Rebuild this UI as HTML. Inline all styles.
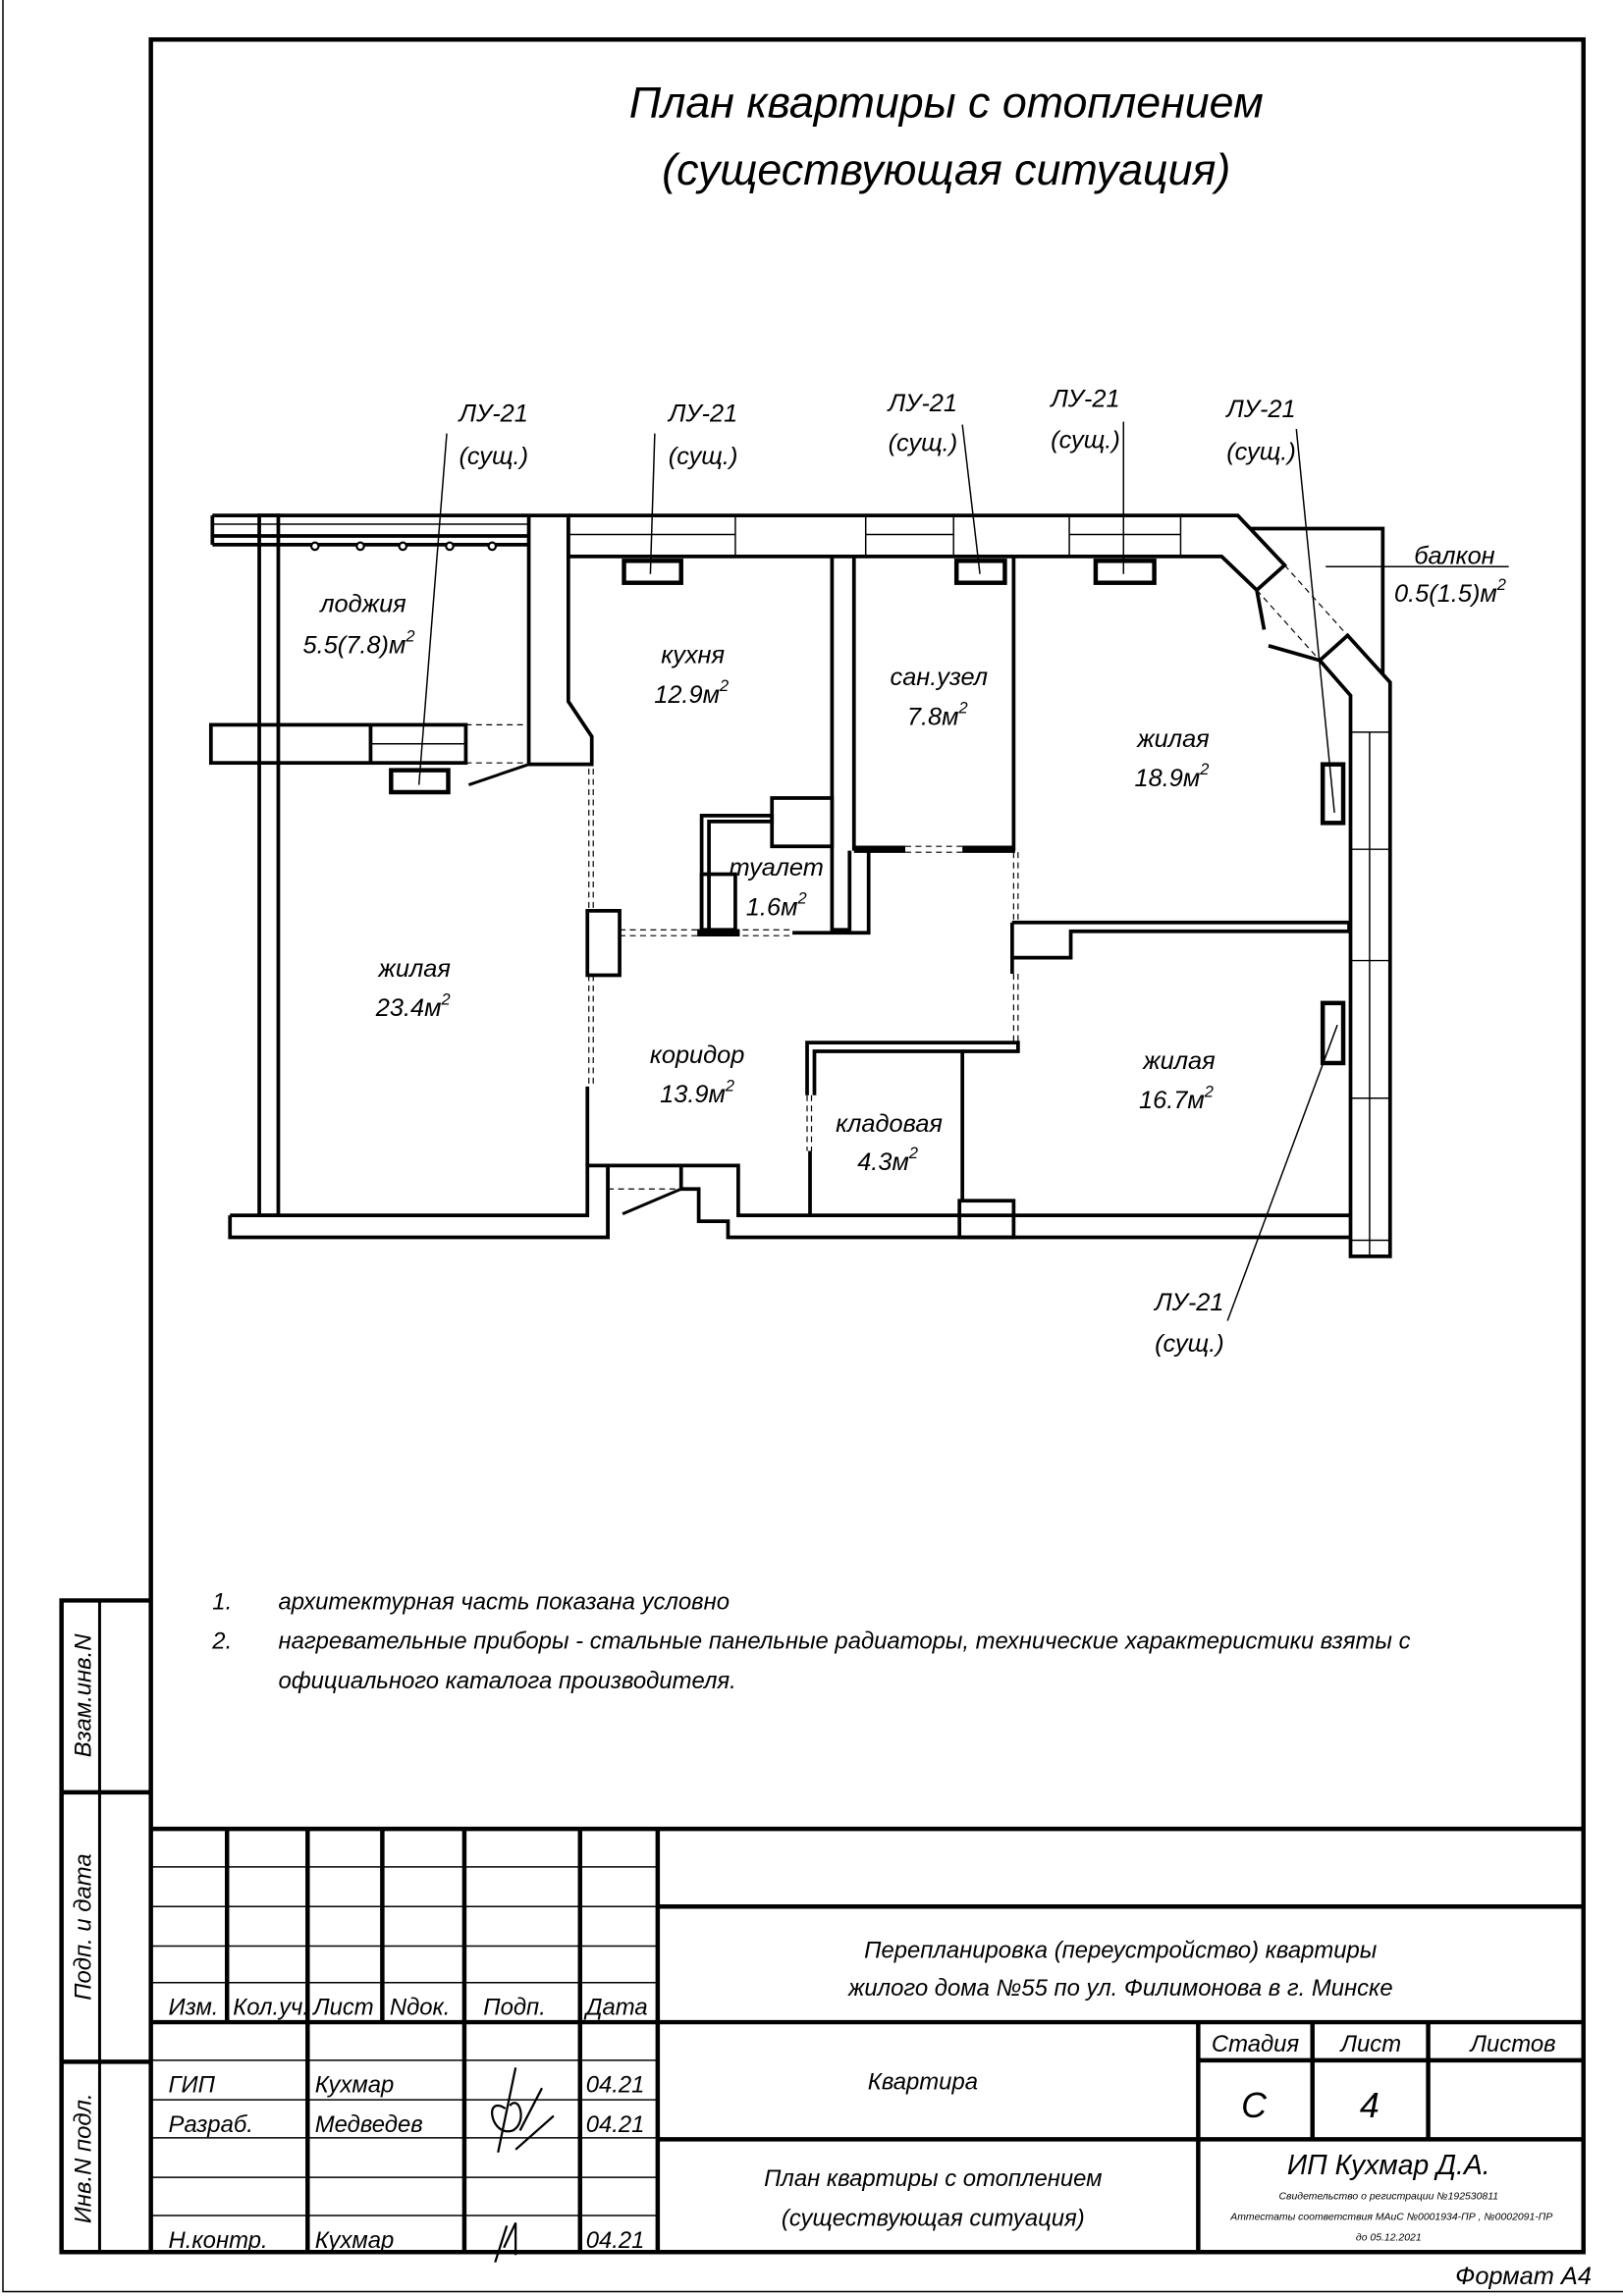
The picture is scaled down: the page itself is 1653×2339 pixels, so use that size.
<!DOCTYPE html>
<html><head><meta charset="utf-8"><style>
html,body{margin:0;padding:0;background:#fff;}
svg{display:block;}
text{font-family:"Liberation Sans Narrow","Liberation Sans","DejaVu Sans",sans-serif;font-style:italic;fill:#000;}
</style></head><body>
<svg xmlns="http://www.w3.org/2000/svg" width="1653" height="2339" viewBox="0 0 1108 1568" preserveAspectRatio="none">
<rect x="0" y="0" width="1108" height="1568" fill="#fff"/>
<rect x="2" y="-2" width="1110" height="1567" fill="none" stroke="#000" stroke-width="1"/>
<!-- main frame -->
<g stroke="#000" stroke-width="3" fill="none">
<rect x="103" y="27" width="978" height="1511"/>
<polyline points="103,1093 42,1093 42,1538 103,1538"/>
<line x1="68" y1="1093" x2="68" y2="1538" stroke-width="2"/>
<line x1="42" y1="1224" x2="103" y2="1224"/>
<line x1="42" y1="1408" x2="103" y2="1408"/>
<!-- title block -->
<line x1="103" y1="1249" x2="1081" y2="1249"/>
<line x1="449" y1="1249" x2="449" y2="1538"/>
<line x1="449" y1="1302" x2="1081" y2="1302"/>
<line x1="103" y1="1381" x2="1081" y2="1381"/>
<line x1="449" y1="1461" x2="1081" y2="1461"/>
<line x1="818" y1="1381" x2="818" y2="1538"/>
<line x1="818" y1="1407" x2="1081" y2="1407"/>
<line x1="896" y1="1381" x2="896" y2="1461"/>
<line x1="975" y1="1381" x2="975" y2="1461"/>
<line x1="155" y1="1249" x2="155" y2="1381"/>
<line x1="210" y1="1249" x2="210" y2="1538"/>
<line x1="261" y1="1249" x2="261" y2="1381"/>
<line x1="317" y1="1249" x2="317" y2="1538"/>
<line x1="396" y1="1249" x2="396" y2="1538"/>
</g>
<g stroke="#000" stroke-width="1" fill="none">
<line x1="103" y1="1275" x2="449" y2="1275"/>
<line x1="103" y1="1302" x2="449" y2="1302"/>
<line x1="103" y1="1329" x2="449" y2="1329"/>
<line x1="103" y1="1354" x2="449" y2="1354"/>
<line x1="103" y1="1407" x2="449" y2="1407"/>
<line x1="103" y1="1434" x2="449" y2="1434"/>
<line x1="103" y1="1460" x2="449" y2="1460"/>
<line x1="103" y1="1487" x2="449" y2="1487"/>
<line x1="103" y1="1513" x2="449" y2="1513"/>
</g>
<!-- titles -->
<text x="646" y="80" font-size="30" text-anchor="middle">План квартиры с отоплением</text>
<text x="646" y="126" font-size="30" text-anchor="middle">(существующая ситуация)</text>
<!-- notes -->
<g font-size="16">
<text x="145" y="1099">1.</text><text x="190" y="1099">архитектурная часть показана условно</text>
<text x="145" y="1126">2.</text><text x="190" y="1126">нагревательные приборы - стальные панельные радиаторы, технические характеристики взяты с</text>
<text x="190" y="1153">официального каталога производителя.</text>
</g>
<!-- left strip -->
<g font-size="16" style="font-style:normal">
<text transform="translate(62,1158) rotate(-90)" text-anchor="middle">Взам.инв.N</text>
<text transform="translate(62,1316) rotate(-90)" text-anchor="middle">Подп.  и  дата</text>
<text transform="translate(62,1474) rotate(-90)" text-anchor="middle">Инв.N подл.</text>
</g>
<!-- title block text -->
<g font-size="16">
<text x="115" y="1376">Изм.</text><text x="159" y="1376">Кол.уч.</text><text x="214" y="1376">Лист</text><text x="266" y="1376">Nдок.</text><text x="330" y="1376">Подп.</text><text x="400" y="1376">Дата</text>
<text x="115" y="1429">ГИП</text><text x="215" y="1429">Кухмар</text><text x="400" y="1429">04.21</text>
<text x="115" y="1456">Разраб.</text><text x="215" y="1456">Медведев</text><text x="400" y="1456">04.21</text>
<text x="115" y="1535">Н.контр.</text><text x="215" y="1535">Кухмар</text><text x="400" y="1535">04.21</text>
<text x="765" y="1337" text-anchor="middle">Перепланировка (переустройство) квартиры</text>
<text x="765" y="1363" text-anchor="middle">жилого дома №55 по ул. Филимонова в г. Минске</text>
<text x="630" y="1427" text-anchor="middle">Квартира</text>
<text x="857" y="1401" text-anchor="middle">Стадия</text><text x="936" y="1401" text-anchor="middle">Лист</text><text x="1033" y="1401" text-anchor="middle">Листов</text>
<text x="637" y="1493" text-anchor="middle">План квартиры с отоплением</text>
<text x="637" y="1520" text-anchor="middle">(существующая ситуация)</text>
</g>
<text x="856" y="1446" font-size="24" text-anchor="middle">С</text>
<text x="935" y="1446" font-size="24" text-anchor="middle">4</text>
<text x="948" y="1485" font-size="19" text-anchor="middle">ИП Кухмар Д.А.</text>
<g font-size="7" text-anchor="middle">
<text x="948" y="1502">Свидетельство о регистрации №192530811</text>
<text x="950" y="1516">Аттестаты соответствия МАиС №0001934-ПР , №0002091-ПР</text>
<text x="948" y="1530">до 05.12.2021</text>
</g>
<text x="1040" y="1560" font-size="17" text-anchor="middle">Формат А4</text>
<!-- signatures -->
<g stroke="#000" stroke-width="1.5" fill="none">
<path d="M340,1470 L352,1412 M345,1440 C330,1430 335,1460 350,1455 C360,1450 355,1430 348,1438 M355,1455 L370,1426 M352,1468 L378,1445"/>
<path d="M338,1545 L346,1520 M344,1535 L352,1518 L352,1540"/>
</g>
<!-- floor plan -->
<g stroke="#000" stroke-width="2.5" fill="none" stroke-linejoin="miter">
<!-- top wall -->
<polyline points="388,352 845,352 877,386 858,403 834,380 388,380"/>
<line x1="388" y1="352" x2="388" y2="380"/>
<!-- loggia rail -->
<polyline points="145,352 361,352"/>
<line x1="145" y1="366" x2="361" y2="366"/>
<line x1="145" y1="372" x2="361" y2="372"/>
<line x1="145" y1="352" x2="145" y2="372"/>
<!-- loggia wall block -->
<polyline points="361,352 388,352 388,479 404,503 404,522 361,522 361,352"/>
<!-- left posts -->
<rect x="177" y="352" width="13" height="478"/>
<!-- bottom left wall -->
<polyline points="157,830 401,830 401,796 415,796 415,845 157,845 157,830"/>
<!-- loggia horizontal block -->
<rect x="144" y="495" width="174" height="26"/>
<line x1="253" y1="495" x2="253" y2="521"/>
<!-- radiators -->
<rect x="267" y="526" width="39" height="15" stroke-width="3"/>
<rect x="426" y="383" width="39" height="15" stroke-width="3"/>
<rect x="653" y="383" width="33" height="15" stroke-width="3"/>
<rect x="748" y="383" width="40" height="15" stroke-width="3"/>
<rect x="903" y="522" width="14" height="40" stroke-width="3"/>
<rect x="903" y="685" width="14" height="41" stroke-width="3"/>
<!-- bay corner -->
<polyline points="858,403 863,430"/>
<line x1="866" y1="441" x2="901" y2="451"/>
<polyline points="901,451 920,434 949,466 949,858 922,858 922,475 901,451"/>
<polyline points="853,361 944,361 944,460"/>
<!-- corridor left wall -->
<rect x="401" y="622" width="22" height="44"/>
<line x1="401" y1="742" x2="401" y2="796"/>
<!-- bottom right walls -->
<polyline points="415,845 415,796 465,796 465,812 477,812 477,834 497,834 497,845 922,845"/>
<polyline points="465,796 504,796 504,830 922,830"/>
<rect x="655" y="820" width="37" height="25"/>
<!-- kladovaya -->
<polyline points="551,748 551,712 695,712 695,718 556,718 556,748"/>
<line x1="553" y1="786" x2="553" y2="830"/>
<line x1="657" y1="718" x2="657" y2="820"/>
<!-- toilet -->
<polyline points="479,635 479,557 527,557 527,561 484,561 484,635"/>
<rect x="527" y="545" width="41" height="33"/>
<rect x="479" y="597" width="23" height="38"/>
<line x1="476" y1="637" x2="505" y2="637" stroke-width="5"/>
<polyline points="541,637 593,637 593,581"/>
<polyline points="568,380 568,635 580,635 580,581"/>
<!-- san.uzel -->
<line x1="583" y1="380" x2="583" y2="581"/>
<line x1="692" y1="380" x2="692" y2="581"/>
<line x1="583" y1="580" x2="618" y2="580" stroke-width="5"/>
<line x1="657" y1="580" x2="693" y2="580" stroke-width="5"/>
<!-- between living rooms -->
<polyline points="691,630 921,630 921,636 731,636 731,654 691,654 691,630"/>
<line x1="691" y1="654" x2="691" y2="665"/>
</g>
<g stroke="#000" stroke-width="1" fill="none">
<line x1="388" y1="365" x2="502" y2="365"/><line x1="502" y1="352" x2="502" y2="380"/>
<line x1="591" y1="352" x2="591" y2="380"/><line x1="591" y1="365" x2="651" y2="365"/><line x1="651" y1="352" x2="651" y2="380"/>
<line x1="730" y1="352" x2="730" y2="380"/><line x1="730" y1="365" x2="806" y2="365"/><line x1="806" y1="352" x2="806" y2="380"/>
<line x1="145" y1="358" x2="361" y2="358"/>
<line x1="253" y1="508" x2="318" y2="508"/>
<line x1="935" y1="500" x2="935" y2="858"/>
<line x1="922" y1="500" x2="949" y2="500"/><line x1="922" y1="580" x2="949" y2="580"/>
<line x1="922" y1="656" x2="949" y2="656"/><line x1="922" y1="750" x2="949" y2="750"/>
<line x1="922" y1="847" x2="949" y2="847"/>
<line x1="320" y1="536" x2="361" y2="522" stroke-width="2"/>
<line x1="425" y1="829" x2="465" y2="812" stroke-width="2"/>
<line x1="905" y1="387" x2="1030" y2="387"/>
<line x1="305" y1="296" x2="286" y2="536"/>
<line x1="447" y1="296" x2="444" y2="392"/>
<line x1="657" y1="290" x2="669" y2="392"/>
<line x1="767" y1="288" x2="767" y2="392"/>
<line x1="885" y1="293" x2="911" y2="555"/>
<line x1="913" y1="700" x2="838" y2="902"/>
</g>
<g stroke="#000" stroke-width="0.8" stroke-dasharray="4,3" fill="none">
<line x1="318" y1="495" x2="361" y2="495"/><line x1="318" y1="521" x2="361" y2="521"/>
<line x1="402" y1="525" x2="402" y2="622"/><line x1="405" y1="525" x2="405" y2="622"/>
<line x1="402" y1="666" x2="402" y2="742"/><line x1="405" y1="666" x2="405" y2="742"/>
<line x1="423" y1="635" x2="541" y2="635"/><line x1="423" y1="639" x2="541" y2="639"/>
<line x1="618" y1="578" x2="657" y2="578"/><line x1="618" y1="582" x2="657" y2="582"/>
<line x1="692" y1="582" x2="692" y2="630"/><line x1="695" y1="582" x2="695" y2="630"/>
<line x1="692" y1="665" x2="692" y2="712"/><line x1="695" y1="665" x2="695" y2="712"/>
<line x1="551" y1="748" x2="551" y2="786"/><line x1="554" y1="748" x2="554" y2="786"/>
<line x1="415" y1="796" x2="465" y2="796"/><line x1="415" y1="812" x2="465" y2="812"/>
<line x1="877" y1="386" x2="920" y2="434"/><line x1="858" y1="403" x2="901" y2="451"/>
</g>
<!-- loggia dots -->
<g fill="#fff" stroke="#000" stroke-width="1.5">
<circle cx="215" cy="373" r="2.5"/><circle cx="246" cy="373" r="2.5"/><circle cx="275" cy="373" r="2.5"/><circle cx="307" cy="373" r="2.5"/><circle cx="336" cy="373" r="2.5"/>
</g>
<!-- room labels -->
<g font-size="17" text-anchor="middle">
<text x="248" y="418">лоджия</text><text x="245" y="446">5.5(7.8)м<tspan font-size="11" dy="-8">2</tspan></text>
<text x="473" y="453">кухня</text><text x="472" y="480">12.9м<tspan font-size="11" dy="-8">2</tspan></text>
<text x="641" y="468">сан.узел</text><text x="640" y="495">7.8м<tspan font-size="11" dy="-8">2</tspan></text>
<text x="801" y="510">жилая</text><text x="800" y="537">18.9м<tspan font-size="11" dy="-8">2</tspan></text>
<text x="530" y="598">туалет</text><text x="530" y="625">1.6м<tspan font-size="11" dy="-8">2</tspan></text>
<text x="283" y="667">жилая</text><text x="282" y="694">23.4м<tspan font-size="11" dy="-8">2</tspan></text>
<text x="476" y="726">коридор</text><text x="476" y="753">13.9м<tspan font-size="11" dy="-8">2</tspan></text>
<text x="805" y="730">жилая</text><text x="803" y="757">16.7м<tspan font-size="11" dy="-8">2</tspan></text>
<text x="607" y="773">кладовая</text><text x="606" y="799">4.3м<tspan font-size="11" dy="-8">2</tspan></text>
<text x="993" y="385">балкон</text><text x="990" y="411">0.5(1.5)м<tspan font-size="11" dy="-8">2</tspan></text>
<text x="337" y="288">ЛУ-21</text><text x="337" y="317">(сущ.)</text>
<text x="480" y="288">ЛУ-21</text><text x="480" y="317">(сущ.)</text>
<text x="630" y="281">ЛУ-21</text><text x="630" y="308">(сущ.)</text>
<text x="741" y="278">ЛУ-21</text><text x="741" y="306">(сущ.)</text>
<text x="861" y="285">ЛУ-21</text><text x="861" y="314">(сущ.)</text>
<text x="812" y="895">ЛУ-21</text><text x="812" y="923">(сущ.)</text>
</g>
</svg>
</body></html>
